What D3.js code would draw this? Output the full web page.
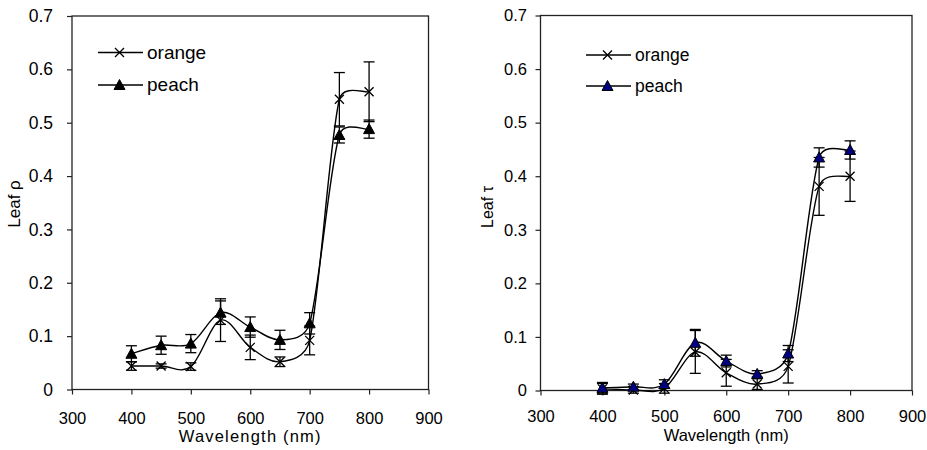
<!DOCTYPE html>
<html>
<head>
<meta charset="utf-8">
<script src="https://cdn.jsdelivr.net/npm/d3@7"></script>
<style>
  body { margin: 0; background: #fff; }
  svg text { font-family: "Liberation Sans", Arial, sans-serif; fill: #000; }
</style>
</head>
<body>
<svg width="927" height="450"></svg>
<script>
var svg = d3.select('svg');

// wavelengths (nm)
var wavelengths = [400, 450, 500, 550, 600, 650, 700, 750, 800];

// leaf reflectance
var rhoOrange = [0.044, 0.044, 0.043, 0.130, 0.079, 0.052, 0.092, 0.544, 0.558];
var rhoOrangeErr = [0.008, 0.004, 0.007, 0.040, 0.023, 0.009, 0.027, 0.050, 0.056];
var rhoPeach = [0.067, 0.083, 0.086, 0.144, 0.117, 0.093, 0.124, 0.477, 0.488];
var rhoPeachErr = [0.015, 0.017, 0.017, 0.022, 0.019, 0.018, 0.020, 0.015, 0.017];

// leaf transmittance
var tauOrange = [0.003, 0.001, 0.004, 0.072, 0.033, 0.012, 0.045, 0.381, 0.400];
var tauOrangeErr = [0.010, 0.006, 0.009, 0.040, 0.025, 0.010, 0.031, 0.054, 0.047];
var tauPeach = [0.005, 0.007, 0.012, 0.089, 0.055, 0.031, 0.069, 0.435, 0.449];
var tauPeachErr = [0.010, 0.005, 0.008, 0.025, 0.011, 0.006, 0.015, 0.018, 0.017];

var xTicks = [300, 400, 500, 600, 700, 800, 900];
var yTicks = [0, 0.1, 0.2, 0.3, 0.4, 0.5, 0.6, 0.7];
var seriesNames = ["orange", "peach"];

// spreadsheet-style smoothed line: bezier segments, control offsets capped at half a segment
function smoothPath(pts) {
  var p = d3.path();
  var n = pts.length;
  p.moveTo(pts[0][0], pts[0][1]);
  function offset(a, b, segLen) {
    var ox = (b[0] - a[0]) / 6, oy = (b[1] - a[1]) / 6;
    var len = Math.hypot(ox, oy);
    if (len > segLen / 2) {
      ox *= segLen / 2 / len;
      oy *= segLen / 2 / len;
    }
    return [ox, oy];
  }
  for (var i = 0; i < n - 1; i++) {
    var p0 = pts[Math.max(i - 1, 0)], p1 = pts[i], p2 = pts[i + 1], p3 = pts[Math.min(i + 2, n - 1)];
    var seg = Math.hypot(p2[0] - p1[0], p2[1] - p1[1]);
    var o1 = offset(p0, p2, seg), o2 = offset(p1, p3, seg);
    p.bezierCurveTo(p1[0] + o1[0], p1[1] + o1[1], p2[0] - o2[0], p2[1] - o2[1], p2[0], p2[1]);
  }
  return p.toString();
}

// draws one panel
function drawPanel(opt) {
  var x = d3.scaleLinear().domain([300, 900]).range([opt.left, opt.right]);
  var y = d3.scaleLinear().domain([0, 0.7]).range([opt.bottom, opt.top]);
  var g = svg.append("g");

  // frame
  g.append("rect")
    .attr("x", opt.left).attr("y", opt.top)
    .attr("width", opt.right - opt.left).attr("height", opt.bottom - opt.top)
    .attr("fill", "none").attr("stroke", "#222").attr("stroke-width", 1.3);

  // y axis
  var yAxis = g.append("g")
    .attr("transform", "translate(" + opt.left + ",0)")
    .call(d3.axisLeft(y).tickValues(yTicks).tickSize(5).tickPadding(opt.yPad)
      .tickFormat(d => d === 0 ? "0" : d3.format(".1f")(d)));
  // x axis
  var xAxis = g.append("g")
    .attr("transform", "translate(0," + opt.bottom + ")")
    .call(d3.axisBottom(x).tickValues(xTicks).tickSize(5).tickPadding(opt.xPad));
  [xAxis, yAxis].forEach(function(a) {
    a.select(".domain").remove();
    a.selectAll("line").attr("stroke", "#222").attr("stroke-width", 1.2);
    a.selectAll("text")
      .style("font-family", '"Liberation Sans", Arial, sans-serif');
  });
  yAxis.selectAll("text").style("font-size", opt.yTickFont + "px");
  xAxis.selectAll("text").style("font-size", opt.xTickFont + "px");

  // axis titles
  g.append("text")
    .attr("x", (opt.left + opt.right) / 2).attr("y", opt.bottom + opt.titleOffset)
    .attr("text-anchor", "middle").style("font-size", "16.5px")
    .style("letter-spacing", opt.titleSpacing + "px")
    .text("Wavelength (nm)");
  g.append("text")
    .attr("transform", "translate(" + opt.yLabelX + "," + opt.yLabelY + ") rotate(-90)")
    .attr("text-anchor", "middle").style("font-size", opt.yLabelFont + "px")
    .text(opt.yLabel);

  var series = [
    { name: "orange", values: opt.orange, errs: opt.orangeErr, marker: "x" },
    { name: "peach", values: opt.peach, errs: opt.peachErr, marker: "tri" }
  ];

  series.forEach(function(s) {
    var pts = wavelengths.map((w, i) => ({ w: w, v: s.values[i], e: s.errs[i] }));

    // line
    g.append("path")
      .attr("d", smoothPath(pts.map(d => [x(d.w), y(d.v)])))
      .attr("fill", "none")
      .attr("stroke", "#000").attr("stroke-width", 1.4);

    // error bars
    var eb = g.selectAll(null).data(pts).enter().append("g");
    eb.append("line")
      .attr("x1", d => x(d.w)).attr("x2", d => x(d.w))
      .attr("y1", d => y(d.v - d.e)).attr("y2", d => y(d.v + d.e))
      .attr("stroke", "#000").attr("stroke-width", 1.3);
    [-1, 1].forEach(function(sgn) {
      eb.append("line")
        .attr("x1", d => x(d.w) - 5.5).attr("x2", d => x(d.w) + 5.5)
        .attr("y1", d => y(d.v + sgn * d.e)).attr("y2", d => y(d.v + sgn * d.e))
        .attr("stroke", "#000").attr("stroke-width", 1.3);
    });

    // markers
    g.selectAll(null).data(pts).enter().append("path")
      .attr("transform", d => "translate(" + x(d.w) + "," + y(d.v) + ")")
      .call(markerStyle, s.marker, opt.triFill);
  });

  // legend
  series.forEach(function(s, i) {
    var ly = opt.legendY + i * opt.legendGap;
    g.append("line")
      .attr("x1", opt.legendX).attr("x2", opt.legendX + 45)
      .attr("y1", ly).attr("y2", ly)
      .attr("stroke", "#000").attr("stroke-width", 1.4);
    g.append("path")
      .attr("transform", "translate(" + (opt.legendX + 21.5) + "," + ly + ")")
      .call(markerStyle, s.marker, opt.triFill);
    g.append("text")
      .attr("x", opt.legendX + 49).attr("y", ly + 6)
      .style("font-size", opt.legendFont + "px")
      .text(s.name);
  });
}

function markerStyle(sel, type, triFill) {
  if (type === "x") {
    sel.attr("d", "M-4.5,-4.5L4.5,4.5M-4.5,4.5L4.5,-4.5")
      .attr("stroke", "#000").attr("stroke-width", 1.3).attr("fill", "none");
  } else {
    sel.attr("d", "M0,-5.5L5.5,4.5L-5.5,4.5Z")
      .attr("fill", triFill).attr("stroke", "#000").attr("stroke-width", 1);
  }
}

drawPanel({
  left: 72, right: 428.5, top: 16, bottom: 389.5,
  orange: rhoOrange, orangeErr: rhoOrangeErr,
  peach: rhoPeach, peachErr: rhoPeachErr,
  triFill: "#000", yLabel: "Leaf ρ", yLabelX: 20, yLabelY: 204, yLabelFont: 17,
  yTickFont: 17.5, xTickFont: 16.5, yPad: 14, xPad: 18, titleOffset: 52.5, titleSpacing: 1.2,
  legendX: 98, legendY: 52.5, legendGap: 32.5, legendFont: 19
});

drawPanel({
  left: 540.5, right: 912, top: 15.5, bottom: 390.5,
  orange: tauOrange, orangeErr: tauOrangeErr,
  peach: tauPeach, peachErr: tauPeachErr,
  triFill: "#000080", yLabel: "Leaf τ", yLabelX: 493, yLabelY: 207, yLabelFont: 16,
  yTickFont: 16.5, xTickFont: 16.5, yPad: 8.5, xPad: 14.5, titleOffset: 50.5, titleSpacing: 0,
  legendX: 586, legendY: 55, legendGap: 31, legendFont: 17.5
});
</script>
</body>
</html>
